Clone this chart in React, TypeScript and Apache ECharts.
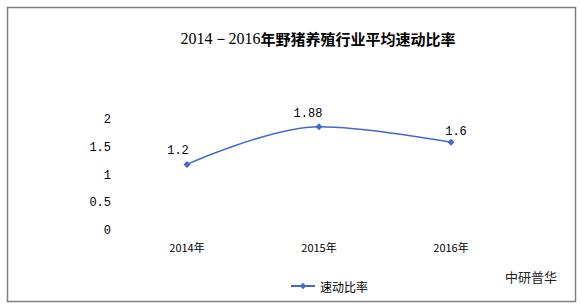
import React, { useEffect, useRef } from "react";
import * as echarts from "echarts";

const categories = ["2014年", "2015年", "2016年"];
const values = [1.2, 1.88, 1.6];
const seriesName = "速动比率";
const yTicks = [0, 0.5, 1, 1.5, 2];
const labelOffsets = [[-9, 1], [-11, 2], [5, 4]];

export default function App() {
  const ref = useRef<HTMLDivElement>(null);
  useEffect(() => {
    const chart = echarts.init(ref.current!, null, { renderer: "svg" });
    chart.setOption({
      animation: false,
      backgroundColor: "#ffffff",
      graphic: [
        {
          type: "rect",
          shape: { x: 7.5, y: 7.5, width: 568, height: 294 },
          style: { fill: "none", stroke: "#808080", lineWidth: 1.5 },
          silent: true,
        },
        {
          type: "text",
          x: 505,
          y: 270,
          style: {
            text: "中研普华",
            font: "13px 'Noto Sans CJK SC', sans-serif",
            fill: "#222222",
          },
        },
      ],
      title: {
        text: "{a|2014－2016}{b|年野猪养殖行业平均速动比率}",
        left: 313,
        textAlign: "center",
        top: 25,
        textStyle: {
          rich: {
            a: { fontFamily: "'Liberation Serif', serif", fontSize: 16, fontWeight: "normal", color: "#000" },
            b: { fontFamily: "'Noto Sans CJK SC', sans-serif", fontSize: 15, fontWeight: "bold", color: "#000" },
          },
        },
      },
      legend: {
        data: [seriesName],
        left: 285,
        top: 275,
        itemWidth: 24,
        itemHeight: 8,
        itemGap: 4,
        textStyle: { fontSize: 12, color: "#000", fontFamily: "'Noto Sans CJK SC', sans-serif" },
      },
      grid: { left: 121, right: 65, top: 120, bottom: 77 },
      xAxis: {
        type: "category",
        data: categories,
        boundaryGap: true,
        axisLine: { show: false },
        axisTick: { show: false },
        axisLabel: { color: "#000", fontSize: 11, margin: 10, fontFamily: "'Noto Sans CJK SC', sans-serif" },
      },
      yAxis: {
        type: "value",
        min: yTicks[0],
        max: yTicks[yTicks.length - 1],
        interval: 0.5,
        axisLine: { show: false },
        axisTick: { show: false },
        splitLine: { show: false },
        axisLabel: {
          color: "#000",
          fontSize: 12,
          margin: 10,
          fontFamily: "'Liberation Mono', monospace",
        },
      },
      series: [
        {
          name: seriesName,
          type: "line",
          data: values.map((v, i) => ({
            value: v,
            label: { offset: labelOffsets[i] },
          })),
          smooth: 0.35,
          symbol: "diamond",
          symbolSize: 7,
          color: "#4169D1",
          lineStyle: { color: "#4169D1", width: 1.5 },
          label: {
            show: true,
            position: "top",
            color: "#000",
            fontSize: 12,
            fontFamily: "'Liberation Mono', monospace",
          },
        },
      ],
    });
    return () => chart.dispose();
  }, []);
  return (
    <div
      ref={ref}
      style={{ position: "fixed", left: 0, top: 0, width: 582, height: 308 }}
    />
  );
}
